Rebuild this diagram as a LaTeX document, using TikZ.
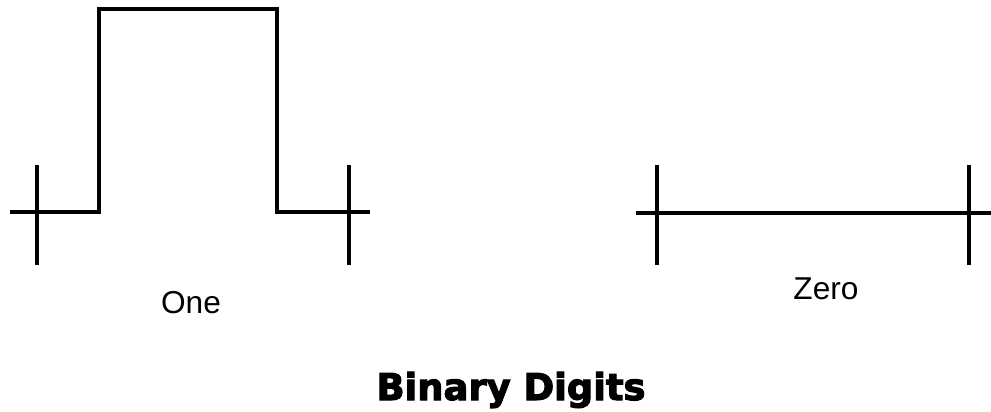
\documentclass[tikz,border=0pt]{standalone}
\usepackage{fontspec}
\setmainfont{Liberation Sans}
\newfontfamily\titlefont{DejaVu Sans Bold}[FakeBold=3]
\usetikzlibrary{positioning}

\begin{document}
\begin{tikzpicture}[
x=0.02cm, y=-0.02cm,
line width=2pt,
every node/.style={font=\fontsize{18}{22}\selectfont},
tick/.style={line width=2pt}
]
\useasboundingbox (0,0) rectangle (991,412);

% the pulse for a one
\coordinate (onel) at (10,212);
\coordinate (oner) at (370,212);
\draw (onel) -- (99,212) -- (99,9) -- (277,9) -- (277,212) -- (oner);
\draw[tick] (37,165) -- (37,265);
\draw[tick] (349,165) -- (349,265);

% flat line for a zero
\coordinate (zerol) at (636,213);
\coordinate (zeror) at (991,213);
\draw (zerol) -- (zeror);
\draw[tick] (657,165) -- (657,265);
\draw[tick] (969,165) -- (969,265);

\node (one) at (191,303) {One};
\node (zero) at (826,289) {Zero};
\node[anchor=base, font=\titlefont\fontsize{21}{25}\selectfont] (title) at (511,400) {Binary Digits};

\end{tikzpicture}
\end{document}
